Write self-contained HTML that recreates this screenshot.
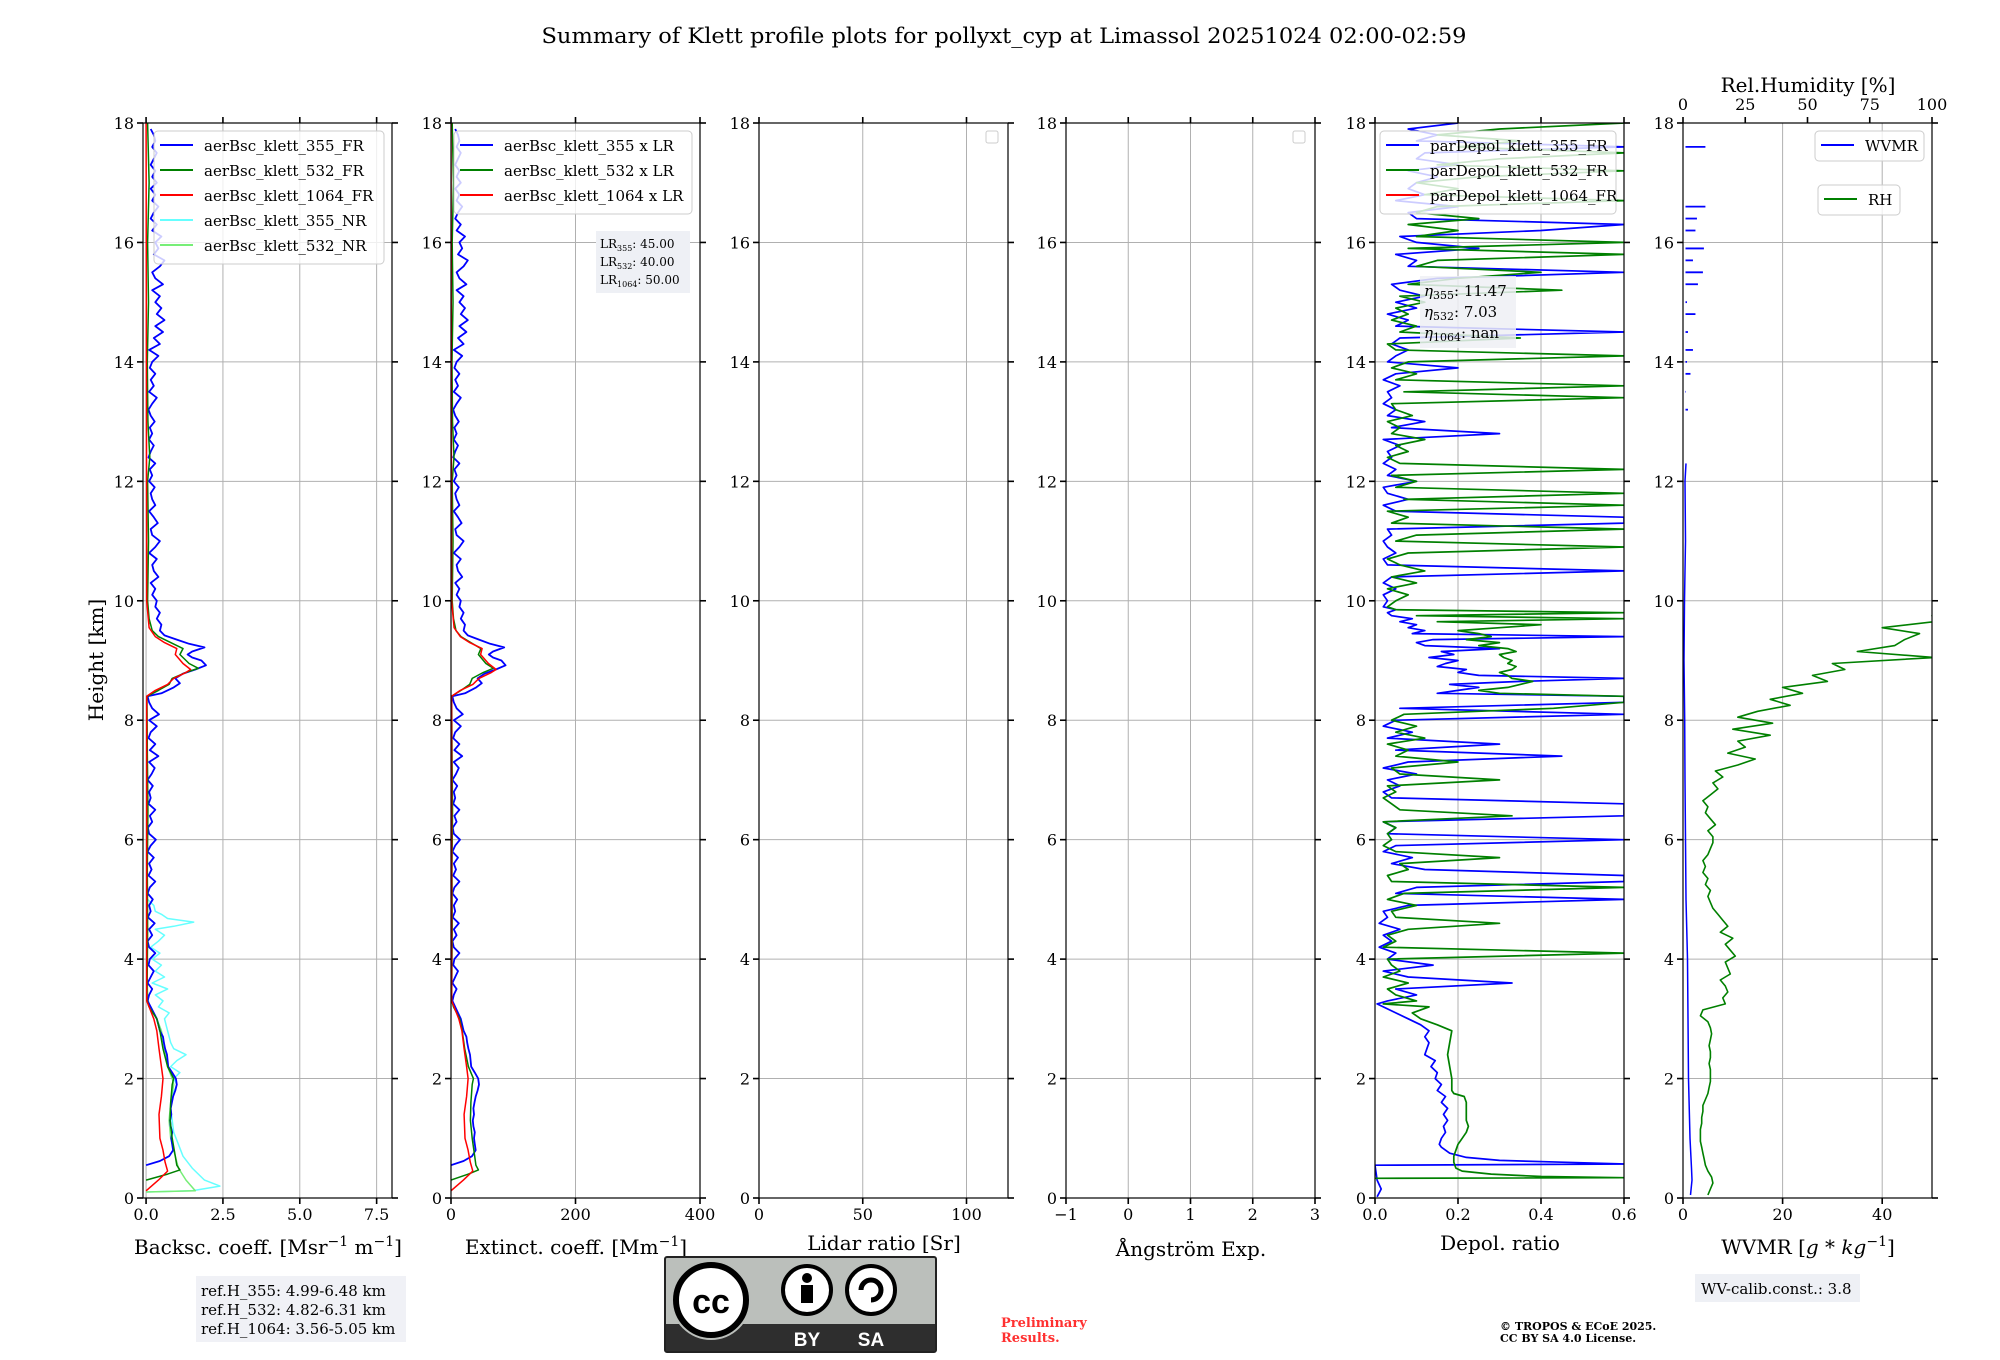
<!DOCTYPE html>
<html><head><meta charset="utf-8">
<style>
html,body{margin:0;padding:0;background:#fff;}
svg{display:block;font-family:"DejaVu Serif","Liberation Serif",serif;}
</style></head>
<body>
<svg id="fig" width="2000" height="1360" viewBox="0 0 2000 1360" xmlns="http://www.w3.org/2000/svg">
<rect x="0" y="0" width="2000" height="1360" fill="#fff"/>
<text x="1004" y="43" font-size="21" text-anchor="middle" textLength="925" lengthAdjust="spacingAndGlyphs">Summary of Klett profile plots for pollyxt_cyp at Limassol 20251024 02:00-02:59</text>
<text transform="translate(103,660) rotate(-90)" font-size="20" text-anchor="middle">Height [km]</text>
<g id="plots"></g>

<text x="268" y="1254" font-size="20" text-anchor="middle">Backsc. coeff. [Msr<tspan font-size="14" dy="-8">−1</tspan><tspan dy="8"> m</tspan><tspan font-size="14" dy="-8">−1</tspan><tspan dy="8">]</tspan></text>
<text x="576" y="1254" font-size="20" text-anchor="middle">Extinct. coeff. [Mm<tspan font-size="14" dy="-8">−1</tspan><tspan dy="8">]</tspan></text>
<text x="884" y="1250" font-size="20" text-anchor="middle">Lidar ratio [Sr]</text>
<text x="1191" y="1256" font-size="20" text-anchor="middle">Ångström Exp.</text>
<text x="1500" y="1250" font-size="20" text-anchor="middle">Depol. ratio</text>
<text x="1808" y="1254" font-size="20" text-anchor="middle">WVMR [<tspan font-style="italic">g</tspan> * <tspan font-style="italic">kg</tspan><tspan font-size="14" dy="-8">−1</tspan><tspan dy="8">]</tspan></text>
<text x="1808" y="92" font-size="20" text-anchor="middle">Rel.Humidity [%]</text>

<g>
<rect x="196" y="1276" width="210" height="66" fill="#eef0f5" opacity="0.9"/>
<text x="201" y="1296" font-size="15">ref.H_355: 4.99-6.48 km</text>
<text x="201" y="1315" font-size="15">ref.H_532: 4.82-6.31 km</text>
<text x="201" y="1334" font-size="15">ref.H_1064: 3.56-5.05 km</text>
</g>
<g>
<rect x="1695" y="1274" width="165" height="28" fill="#eef0f5"/>
<text x="1701" y="1294" font-size="15">WV-calib.const.: 3.8</text>
</g>
<g>
<text x="1001" y="1327" font-size="13" font-weight="bold" fill="#ff3030">Preliminary</text>
<text x="1001" y="1342" font-size="13" font-weight="bold" fill="#ff3030">Results.</text>
</g>
<g>
<text x="1500" y="1330" font-size="11" font-weight="bold">© TROPOS &amp; ECoE 2025.</text>
<text x="1500" y="1342" font-size="11" font-weight="bold">CC BY SA 4.0 License.</text>
</g>
<g>
<rect x="665" y="1257" width="271" height="95" fill="#bbbfbb" stroke="#222" stroke-width="2" rx="2"/>
<rect x="666" y="1324" width="269" height="27" fill="#2e2e2e"/>
<circle cx="711" cy="1300" r="40" fill="#bbbfbb"/>
<circle cx="711" cy="1300" r="35" fill="#fff" stroke="#000" stroke-width="6"/>
<text x="711" y="1313" font-size="34" font-weight="bold" text-anchor="middle" font-family="Liberation Sans, sans-serif">cc</text>
<circle cx="807" cy="1290" r="24" fill="#fff" stroke="#000" stroke-width="4"/>
<circle cx="807" cy="1278" r="5" fill="#000"/>
<rect x="801" y="1285" width="12" height="18" fill="#000"/>
<circle cx="871" cy="1290" r="24" fill="#fff" stroke="#000" stroke-width="4"/>
<path d="M861 1290 A10 10 0 1 1 871 1300" fill="none" stroke="#000" stroke-width="5"/>
<text x="807" y="1346" font-size="19" font-weight="bold" fill="#fff" text-anchor="middle" font-family="Liberation Sans, sans-serif">BY</text>
<text x="871" y="1346" font-size="19" font-weight="bold" fill="#fff" text-anchor="middle" font-family="Liberation Sans, sans-serif">SA</text>
</g>
</svg>
<script>
// ---------- data ----------
const heightTicks = [0,2,4,6,8,10,12,14,16,18];
const lidarRatios = [45, 40, 50];
const bsc355H = [0.55,0.62,0.7,0.8,0.9,1.0,1.1,1.2,1.3,1.4,1.5,1.6,1.7,1.8,1.9,2.0,2.1,2.2,2.3,2.4,2.5,2.6,2.7,2.8,2.9,3.0,3.1,3.2,3.3];
const bsc355V = [0,0.45,0.75,0.88,0.85,0.82,0.85,0.8,0.78,0.82,0.8,0.84,0.88,0.95,1.0,0.97,0.85,0.72,0.7,0.68,0.62,0.58,0.55,0.45,0.4,0.35,0.25,0.15,0.05];
const bsc355NoiseStart = 3.4, bsc355NoiseStep = 0.1;
const bsc355Noise = [0.1,0.2,0.05,0.15,0.25,0.08,0.12,0.3,0.1,0.05,0.2,0.1,0.28,0.06,0.15,0.1,0.22,0.05,0.12,0.3,0.08,0.18,0.1,0.25,0.05,0.15,0.32,0.1,0.06,0.2,0.12,0.3,0.08,0.15,0.1,0.22,0.05,0.18,0.28,0.1,0.4,0.12,0.3,0.08,0.15,0.35,0.1,0.42,0.2,0.1,0.05];
const bsc355LayerH = [8.45,8.55,8.62,8.7,8.78,8.85,8.92,9.0,9.05,9.1,9.15,9.22,9.28,9.35,9.42,9.5,9.6,9.7,9.8,9.9];
const bsc355LayerV = [0.5,0.9,1.1,0.95,1.2,1.6,1.95,1.8,1.5,1.35,1.5,1.9,1.4,1.0,0.6,0.45,0.5,0.35,0.45,0.3];
const bsc355UpperStart = 10.0, bsc355UpperStep = 0.1;
const bsc355Upper = [0.35,0.2,0.3,0.15,0.4,0.25,0.2,0.35,0.1,0.3,0.45,0.2,0.15,0.38,0.25,0.1,0.3,0.2,0.15,0.28,0.1,0.2,0.12,0.3,0.08,0.15,0.25,0.1,0.2,0.12,0.28,0.15,0.08,0.2,0.35,0.1,0.25,0.15,0.3,0.12,0.2,0.4,0.1,0.45,0.25,0.55,0.3,0.6,0.35,0.5,0.3,0.45,0.2,0.55,0.3,0.2,0.45,0.6,0.25,0.4,0.3,0.5,0.2,0.35,0.15,0.25,0.4,0.2,0.3,0.15,0.35,0.2,0.3,0.15,0.25,0.35,0.2,0.3,0.25,0.15];
const bsc532H = [0.3,0.4,0.47,0.55,0.7,1.0,1.3,1.6,1.9,2.0,2.2,2.5,2.8,3.0,3.2,3.3,4.5,5.5,6.5,7.5,8.4,8.5,8.6,8.7,8.8,8.87,8.95,9.1,9.2,9.3,9.4,9.5,9.7,10,11,12,12.4,13,14,15,16,17,18];
const bsc532V = [0,0.7,1.1,1.0,0.95,0.85,0.78,0.8,0.85,0.9,0.7,0.55,0.45,0.35,0.1,0.03,0.05,0.04,0.06,0.04,0.03,0.4,0.75,0.85,1.3,1.7,1.4,1.1,1.2,0.8,0.4,0.2,0.1,0.05,0.08,0.05,0.12,0.06,0.04,0.08,0.05,0.1,0.05];
const bsc1064H = [0.12,0.3,0.45,0.6,0.8,1.0,1.4,1.7,2.0,2.2,2.5,2.8,3.0,3.2,3.3,8.4,8.5,8.6,8.7,8.8,8.85,8.95,9.1,9.2,9.3,9.4,9.55,10,14,18];
const bsc1064V = [0,0.4,0.7,0.62,0.55,0.45,0.42,0.5,0.55,0.5,0.42,0.35,0.25,0.1,0.02,0.02,0.3,0.7,0.9,1.3,1.45,1.2,0.95,1.0,0.6,0.3,0.1,0.02,0.01,0.0];
const bsc355nrH = [0.1,0.12,0.2,0.3,0.5,0.7,0.9,1.1,1.3,1.5,1.7,1.9,2.0,2.1,2.2,2.3,2.4,2.5,2.6,2.8,3.0,3.1,3.2,3.3,3.4,3.5,3.6,3.7,3.8,3.9,4.0,4.1,4.2,4.3,4.4,4.5,4.55,4.62,4.68,4.75,4.8,4.9,5.0];
const bsc355nrV = [0,1.5,2.4,1.9,1.5,1.2,1.05,0.9,0.85,0.8,0.85,1.0,0.9,1.1,0.8,1.0,1.3,0.9,0.8,0.7,0.6,0.75,0.4,0.55,0.3,0.7,0.2,0.6,0.3,0.5,0.2,0.45,0.15,0.4,0.6,0.3,0.9,1.55,0.7,0.5,0.3,0.25,0.05];
const bsc532nrH = [0.1,0.12,0.3,0.5,0.8,1.0,1.3,1.6,1.9,2.0,2.2,2.5,2.8,3.0,3.2,3.4,4.0,5.0];
const bsc532nrV = [0,1.6,1.3,1.05,0.9,0.8,0.75,0.8,0.9,0.85,0.7,0.6,0.5,0.35,0.1,0.05,0.02,0.02];
const dep355H = [0.02,0.15,0.3,0.55,0.57,0.6,0.63,0.68,0.75,0.85,0.9,1.0,1.1,1.2,1.3,1.4,1.5,1.6,1.7,1.8,1.9,2.0,2.1,2.2,2.3,2.4,2.5,2.6,2.7,2.8,2.9,3.0,3.1,3.2,3.25];
const dep355V = [0.005,0.015,0.005,0.0,0.6,0.45,0.3,0.22,0.18,0.16,0.155,0.16,0.17,0.165,0.175,0.165,0.175,0.16,0.17,0.15,0.16,0.145,0.15,0.135,0.145,0.12,0.125,0.13,0.12,0.13,0.11,0.08,0.05,0.02,0.005];
const dep355Mid = [0.03,0.1,0.05,0.33,0.08,0.02,0.14,0.03,0.05,0.01,0.04,0.02,0.06,0.01,0.03,0.02,0.08,0.6,0.05,0.1,0.6,0.6,0.12,0.04,0.09,0.02,0.05,0.6,0.03,0.05,0.02,0.6,0.6,0.6,0.04,0.02,0.06,0.03,0.1,0.02,0.08,0.45,0.05,0.3,0.03,0.09,0.02,0.05,0.6,0.06,0.6];
const dep355Layer = [0.6,0.15,0.2,0.25,0.18,0.35,0.6,0.25,0.2,0.22,0.15,0.17,0.2,0.13,0.19,0.16,0.3,0.12,0.1,0.14,0.6,0.09,0.12,0.08,0.1,0.06,0.09,0.04,0.03,0.05,0.02];
const dep355Upper = [0.03,0.02,0.05,0.02,0.04,0.6,0.03,0.02,0.05,0.03,0.02,0.04,0.03,0.6,0.6,0.05,0.02,0.08,0.03,0.02,0.1,0.03,0.05,0.02,0.04,0.03,0.06,0.02,0.3,0.04,0.12,0.03,0.05,0.02,0.04,0.03,0.06,0.02,0.05,0.2,0.03,0.05,0.08,0.04,0.06,0.6,0.05,0.08,0.03,0.1,0.05,0.12,0.06,0.04,0.15,0.6,0.08,0.1,0.05,0.25,0.1,0.06,0.4,0.6,0.1,0.08,0.2,0.05,0.12,0.08,0.1,0.15,0.08,0.2,0.1,0.12,0.6,0.1,0.15,0.08,0.2];
const dep532H = [0.33,0.34,0.36,0.4,0.45,0.5,0.6,0.7,0.8,0.9,1.0,1.1,1.2,1.3,1.4,1.5,1.6,1.7,1.75,1.8,2.0,2.2,2.4,2.6,2.8,2.9,3.0,3.1,3.2,3.25];
const dep532V = [0.0,0.6,0.4,0.28,0.21,0.195,0.19,0.19,0.195,0.2,0.21,0.22,0.225,0.22,0.22,0.22,0.22,0.215,0.19,0.185,0.185,0.18,0.175,0.18,0.185,0.15,0.11,0.09,0.13,0.02];
const dep532Mid = [0.1,0.05,0.03,0.08,0.02,0.06,0.04,0.03,0.6,0.02,0.05,0.03,0.08,0.3,0.05,0.04,0.1,0.03,0.07,0.6,0.04,0.03,0.08,0.06,0.3,0.05,0.02,0.04,0.03,0.05,0.02,0.33,0.06,0.04,0.02,0.05,0.03,0.3,0.06,0.04,0.2,0.05,0.08,0.03,0.12,0.05,0.1,0.04,0.07,0.43,0.6];
const dep532Layer = [0.6,0.3,0.25,0.32,0.35,0.38,0.33,0.32,0.3,0.33,0.34,0.32,0.33,0.31,0.3,0.34,0.32,0.25,0.3,0.22,0.28,0.25,0.2,0.3,0.4,0.15,0.6,0.1,0.6,0.05,0.03];
const dep532Upper = [0.05,0.08,0.03,0.1,0.04,0.12,0.06,0.03,0.08,0.6,0.05,0.1,0.6,0.04,0.08,0.03,0.6,0.07,0.6,0.05,0.1,0.04,0.6,0.06,0.03,0.08,0.05,0.12,0.04,0.06,0.03,0.09,0.05,0.04,0.6,0.07,0.6,0.05,0.1,0.04,0.08,0.6,0.05,0.03,0.35,0.06,0.1,0.04,0.08,0.05,0.12,0.06,0.45,0.08,0.2,0.4,0.1,0.15,0.6,0.08,0.6,0.1,0.2,0.08,0.25,0.1,0.15,0.6,0.12,0.2,0.1,0.25,0.6,0.15,0.3,0.6,0.2,0.35,0.15,0.3,0.6];
const depMidStart = 3.3, depLayerStart = 8.4, depLayerStep = 0.05, depUpperStart = 10.0, depStep = 0.1;
const wvmrH = [0.05,0.3,0.5,1.0,2.0,3.0,4.0,5.0,6.0,7.0,8.0,9.0,10.0,10.5,11.0,12.0,12.3];
const wvmrV = [1.5,1.8,1.7,1.4,1.1,1.0,0.9,0.6,0.5,0.4,0.35,0.2,0.3,0.4,0.5,0.4,0.6];
const wvmrSparseH = [13.2,13.5,13.8,14.0,14.2,14.5,14.8,15.0,15.3,15.5,15.7,15.9,16.2,16.4,16.6,17.6];
const wvmrSparseV = [1.0,0.6,1.5,0.8,2.0,1.0,2.5,0.8,3.0,4.0,2.0,4.2,2.5,2.8,4.5,4.5];
const rhStart = 0.05, rhStep = 0.1;
const rhV = [10,11,12,11.5,10,9,8.5,8,7.5,7, 7,7,7.5,7.5,8,8,9,10,10.5,11, 11,11,10.5,11,11,10.5,11,11.5,11,10, 7,8,17,16,18,17,15,19,18,17, 21,19,17,20,15,18,16,14,12,11, 10,11,9,10,8,9,8,10,11,12, 12,10,13,11,9,10,8,11,14,12, 16,13,22,29,18,25,22,35,20,36, 22,30,43,35,48,40,58,52,65,60, 101,70,85,89,95,80,101,100,101];

// ---------- layout ----------
const TOP = 123, BOT = 1198, W = 249;
const panels = [
 {left:143, xmin:-0.1, xmax:8, ticks:[0,2.5,5,7.5], labels:["0.0","2.5","5.0","7.5"]},
 {left:451, xmin:0, xmax:400, ticks:[0,200,400], labels:["0","200","400"]},
 {left:759, xmin:0, xmax:120, ticks:[0,50,100], labels:["0","50","100"]},
 {left:1066, xmin:-1, xmax:3, ticks:[-1,0,1,2,3], labels:["−1","0","1","2","3"]},
 {left:1375, xmin:0, xmax:0.6, ticks:[0,0.2,0.4,0.6], labels:["0.0","0.2","0.4","0.6"]},
 {left:1683, xmin:0, xmax:50, ticks:[0,20,40], labels:["0","20","40"]}
];
const NS = "http://www.w3.org/2000/svg";
const root = document.getElementById('plots');
function el(tag, attrs, parent){ const e=document.createElementNS(NS,tag); for(const k in attrs) e.setAttribute(k,attrs[k]); (parent||root).appendChild(e); return e; }
function yS(h){ return BOT - h*(BOT-TOP)/18; }
function xS(p,v){ const P=panels[p]; return P.left + (v-P.xmin)/(P.xmax-P.xmin)*W; }
function grid(start, step, n){ const a=[]; for(let i=0;i<n;i++) a.push(+(start+i*step).toFixed(3)); return a; }

const defs = el('defs',{});
panels.forEach((P,i)=>{ const c=el('clipPath',{id:'clip'+i},defs); el('rect',{x:P.left,y:TOP,width:W,height:BOT-TOP},c); });

panels.forEach((P,i)=>{
  const g = el('g',{});
  
  
  P.ticks.forEach((t,k)=>{
    const x=xS(i,t);
    const gl=el('line',{x1:x,x2:x,y1:TOP,y2:BOT,stroke:'#b0b0b0','stroke-width':1},g);
    
    
    el('line',{x1:x,x2:x,y1:BOT,y2:BOT+6,stroke:'#000','stroke-width':1.6},g);
    if(i<5) el('line',{x1:x,x2:x,y1:TOP,y2:TOP-6,stroke:'#000','stroke-width':1.6},g);
    const tl=el('text',{x:x,y:BOT+22,'font-size':16,'text-anchor':'middle'},g);
    tl.textContent=P.labels[k];
    
    
  });
  heightTicks.forEach(h=>{
    const y=yS(h);
    const gl=el('line',{x1:P.left,x2:P.left+W,y1:y,y2:y,stroke:'#b0b0b0','stroke-width':1},g);
    
    
    el('line',{x1:P.left-6,x2:P.left,y1:y,y2:y,stroke:'#000','stroke-width':1.6},g);
    el('line',{x1:P.left+W,x2:P.left+W+6,y1:y,y2:y,stroke:'#000','stroke-width':1.6},g);
    const tl=el('text',{x:P.left-9,y:y+6,'font-size':16,'text-anchor':'end'},g);
    tl.textContent=h;
    
    
  });
});
const rhTicks=[0,25,50,75,100];
rhTicks.forEach(t=>{
  const x=panels[5].left+t/100*W;
  el('line',{x1:x,x2:x,y1:TOP,y2:TOP-6,stroke:'#000','stroke-width':1.6});
  const tl=el('text',{x:x,y:TOP-13,'font-size':16,'text-anchor':'middle'});
  tl.textContent=t;
  
  
});

function line(p, hs, vs, color, width, name, scale){
  let d=''; let pen=false;
  for(let i=0;i<hs.length && i<vs.length;i++){
    if(vs[i]===null){pen=false;continue;}
    const v = scale ? vs[i]*scale : vs[i];
    d += (pen?'L':'M') + xS(p,v).toFixed(1)+' '+yS(hs[i]).toFixed(1)+' ';
    pen=true;
  }
  const e=el('path',{d:d,fill:'none',stroke:color,'stroke-width':width||1.5,'clip-path':'url(#clip'+p+')','stroke-linejoin':'round'});
  
  
  return e;
}
function concatH(){ return [].concat(...arguments); }

const b355H = concatH(bsc355H, grid(bsc355NoiseStart,bsc355NoiseStep,bsc355Noise.length), bsc355LayerH, grid(bsc355UpperStart,bsc355UpperStep,bsc355Upper.length));
const b355V = concatH(bsc355V, bsc355Noise, bsc355LayerV, bsc355Upper);

line(0,bsc355nrH,bsc355nrV,'#66ffff',1.5,'line-bsc-355-nr');
line(0,bsc532nrH,bsc532nrV,'#77ee77',1.5,'line-bsc-532-nr');
line(0,b355H,b355V,'#0000ff',1.8,'line-bsc-355-fr');
line(0,bsc532H,bsc532V,'#008000',1.5,'line-bsc-532-fr');
line(0,bsc1064H,bsc1064V,'#ff0000',1.5,'line-bsc-1064-fr');
line(1,b355H,b355V,'#0000ff',1.8,'line-ext-355',lidarRatios[0]);
line(1,bsc532H,bsc532V,'#008000',1.5,'line-ext-532',lidarRatios[1]);
line(1,bsc1064H,bsc1064V,'#ff0000',1.5,'line-ext-1064',lidarRatios[2]);
const d355H = concatH(dep355H, grid(depMidStart,depStep,dep355Mid.length), grid(depLayerStart,depLayerStep,dep355Layer.length), grid(depUpperStart,depStep,dep355Upper.length));
const d355V = concatH(dep355V, dep355Mid, dep355Layer, dep355Upper);
const d532H = concatH(dep532H, grid(depMidStart,depStep,dep532Mid.length), grid(depLayerStart,depLayerStep,dep532Layer.length), grid(depUpperStart,depStep,dep532Upper.length));
const d532V = concatH(dep532V, dep532Mid, dep532Layer, dep532Upper);
line(4,d355H,d355V,'#0000ff',1.7,'line-depol-355');
line(4,d532H,d532V,'#008000',1.7,'line-depol-532');
line(5,wvmrH,wvmrV,'#0000ff',1.5,'line-wvmr');
wvmrSparseH.forEach((h,i)=>{
  const e=el('line',{x1:xS(5,0.5),x2:xS(5,wvmrSparseV[i]),y1:yS(h),y2:yS(h),stroke:'#0000ff','stroke-width':1.8});
  
  
});
const rhH = grid(rhStart,rhStep,rhV.length);
line(5,rhH,rhV,'#008000',1.6,'line-rh',0.5);

panels.forEach((P,i)=>{
  const s=el('rect',{x:P.left,y:TOP,width:W,height:BOT-TOP,fill:'none',stroke:'#000','stroke-width':1.2});
  
  
});

function legend(x,y,w,entries,name,rowH){
  rowH=rowH||25;
  const g=el('g',{});
  
  
  el('rect',{x:x,y:y,width:w,height:entries.length*rowH+8,rx:4,fill:'#fff','fill-opacity':0.8,stroke:'#cccccc','stroke-width':1},g);
  entries.forEach((e,k)=>{
    const cy=y+14+k*rowH;
    el('line',{x1:x+6,x2:x+39,y1:cy,y2:cy,stroke:e[1],'stroke-width':2},g);
    const t=el('text',{x:x+50,y:cy+6,'font-size':15},g);
    t.textContent=e[0];
    
    
  });
}
legend(154,131,230,[['aerBsc_klett_355_FR','#0000ff'],['aerBsc_klett_532_FR','#008000'],['aerBsc_klett_1064_FR','#ff0000'],['aerBsc_klett_355_NR','#66ffff'],['aerBsc_klett_532_NR','#77ee77']],'backscatter-legend');
legend(454,131,238,[['aerBsc_klett_355 x LR','#0000ff'],['aerBsc_klett_532 x LR','#008000'],['aerBsc_klett_1064 x LR','#ff0000']],'extinction-legend');
legend(1380,131,236,[['parDepol_klett_355_FR','#0000ff'],['parDepol_klett_532_FR','#008000'],['parDepol_klett_1064_FR','#ff0000']],'depol-legend');
legend(1815,131,109,[['WVMR','#0000ff']],'wvmr-legend',22);
legend(1818,185,82,[['RH','#008000']],'rh-legend',22);
[[1, 759],[2,1066]].forEach(a=>{
  const r=el('rect',{x:a[1]+W-22,y:131,width:12,height:12,rx:2,fill:'#fff',stroke:'#cccccc'});
  
  
});
(function(){
  const g=el('g',{});
  
  
  el('rect',{x:596,y:231,width:94,height:62,fill:'#eef0f5'},g);
  const vals=[['355','45.00'],['532','40.00'],['1064','50.00']];
  vals.forEach((v,k)=>{
    const t=el('text',{x:600,y:248+k*18,'font-size':12},g);
    t.innerHTML='LR<tspan font-size="8" dy="3">'+v[0]+'</tspan><tspan dy="-3">: '+v[1]+'</tspan>';
  });
})();
(function(){
  const g=el('g',{});
  
  
  el('rect',{x:1420,y:276,width:96,height:72,fill:'#eef0f5','fill-opacity':0.85},g);
  const vals=[['355','11.47'],['532','7.03'],['1064','nan']];
  vals.forEach((v,k)=>{
    const t=el('text',{x:1424,y:296+k*21,'font-size':15},g);
    t.innerHTML='<tspan font-style="italic">η</tspan><tspan font-size="11" dy="3">'+v[0]+'</tspan><tspan dy="-3">: '+v[1]+'</tspan>';
  });
})();
</script>
</body></html>
